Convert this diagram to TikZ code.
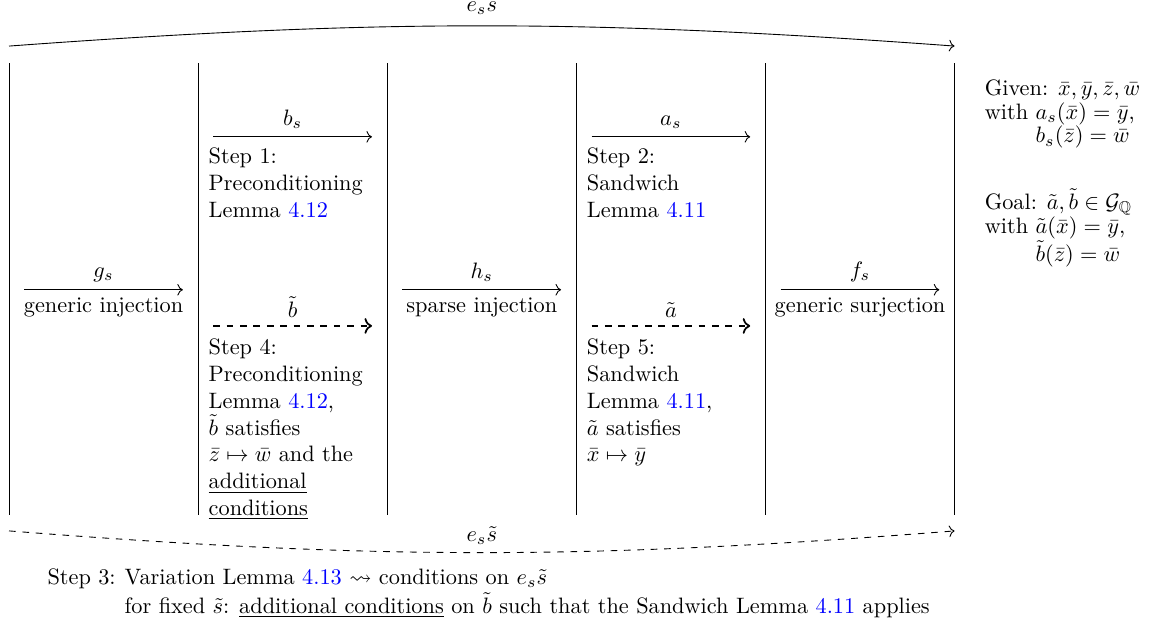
\documentclass[tikz,border=0pt]{standalone}
\usepackage{amsmath,amssymb,amsfonts}
\usepackage{tikz}
\usetikzlibrary{arrows.meta,positioning,calc}
\usepackage{xcolor}

\newcommand{\lemref}[1]{\textcolor{blue}{#1}}

\begin{document}
\begin{tikzpicture}[
  map/.style={->},
  newmap/.style={->,thick,dashed},
  stepnote/.style={align=left,inner sep=0pt,anchor=north west},
  ]
  \useasboundingbox (-0.142,-1.623) rectangle (17.98,8.116);
  % the five columns
  \foreach \i in {0,...,5}{
    \coordinate (t\i) at (2.98*\i,7.12);
    \coordinate (b\i) at (2.98*\i,0);
    \draw (t\i) -- (b\i);
  }
  \foreach \i in {0,...,4}{
    \coordinate (mL\i) at ($(b\i)+(0.24,3.55)$);
    \coordinate (mR\i) at ($(b\i)+(2.74,3.55)$);
    \coordinate (uL\i) at ($(b\i)+(0.24,5.96)$);
    \coordinate (uR\i) at ($(b\i)+(2.74,5.96)$);
    \coordinate (dL\i) at ($(b\i)+(0.24,2.98)$);
    \coordinate (dR\i) at ($(b\i)+(2.74,2.98)$);
  }
  % outer maps
  \coordinate (es0) at (0,7.39); \coordinate (es5) at (14.9,7.39);
  \draw[->] (es0) to[bend left=4.2] node[above=1.5pt] (esl) {$e_s s$} (es5);
  \coordinate (et0) at (0,-0.25); \coordinate (et5) at (14.9,-0.25);
  \draw[->,dashed] (et0) to[bend right=4.5] node[above] (etl) {$e_s\tilde s$} (et5);
  % middle row
  \draw[map] (mL0) -- node[above] (gs) {$g_s$} node[below] (gsn) {generic injection} (mR0);
  \draw[map] (mL2) -- node[above] (hs) {$h_s$} node[below] (hsn) {sparse injection} (mR2);
  \draw[map] (mL4) -- node[above] (fs) {$f_s$} node[below] (fsn) {generic surjection} (mR4);
  % upper row
  \draw[map] (uL1) -- node[above] (bs) {$b_s$} (uR1);
  \draw[map] (uL3) -- node[above] (as) {$a_s$} (uR3);
  \node[stepnote] (step1) at ($(b1)+(0.16,5.79)$)
    {Step 1:\\Preconditioning\\Lemma \lemref{4.12}};
  \node[stepnote] (step2) at ($(b3)+(0.16,5.79)$)
    {Step 2:\\Sandwich\\Lemma \lemref{4.11}};
  % lower row
  \draw[newmap] (dL1) -- node[above] (bt) {$\tilde b$} (dR1);
  \draw[newmap] (dL3) -- node[above] (at) {$\tilde a$} (dR3);
  \node[stepnote] (step4) at ($(b1)+(0.16,2.78)$)
    {Step 4:\\Preconditioning\\Lemma \lemref{4.12},\\$\tilde b$ satisfies\\
     $\bar z\mapsto\bar w$ and the\\\underline{additional}\\\underline{conditions}};
  \node[stepnote] (step5) at ($(b3)+(0.16,2.78)$)
    {Step 5:\\Sandwich\\Lemma \lemref{4.11},\\$\tilde a$ satisfies\\$\bar x\mapsto\bar y$};
  % step 3 below
  \node[stepnote] (step3) at (0.6,-0.79)
    {\begin{tabular}{@{}l@{\hspace{4pt}}l@{}}
     Step 3: & Variation Lemma \lemref{4.13} $\rightsquigarrow$ conditions on $e_s\tilde s$\\
     & for fixed $\tilde s$: \underline{additional conditions} on $\tilde b$ such that the Sandwich Lemma \lemref{4.11} applies
     \end{tabular}};
  % given and goal
  \node[stepnote] (given) at (15.37,6.88)
    {\renewcommand{\arraystretch}{0.88}%
     \begin{tabular}{@{}l@{\ }l@{}}
     \multicolumn{2}{@{}l@{}}{Given: $\bar x,\bar y,\bar z,\bar w$}\\
     with & $a_s(\bar x)=\bar y$,\\
          & $b_s(\bar z)=\bar w$
     \end{tabular}};
  \node[stepnote] (goal) at (15.37,5.15)
    {\renewcommand{\arraystretch}{0.88}%
     \begin{tabular}{@{}l@{\ }l@{}}
     \multicolumn{2}{@{}l@{}}{Goal: $\tilde a,\tilde b\in\mathcal{G}_{\mathbb{Q}}$}\\
     with & $\tilde a(\bar x)=\bar y$,\\
          & $\tilde b(\bar z)=\bar w$
     \end{tabular}};
\end{tikzpicture}
\end{document}
